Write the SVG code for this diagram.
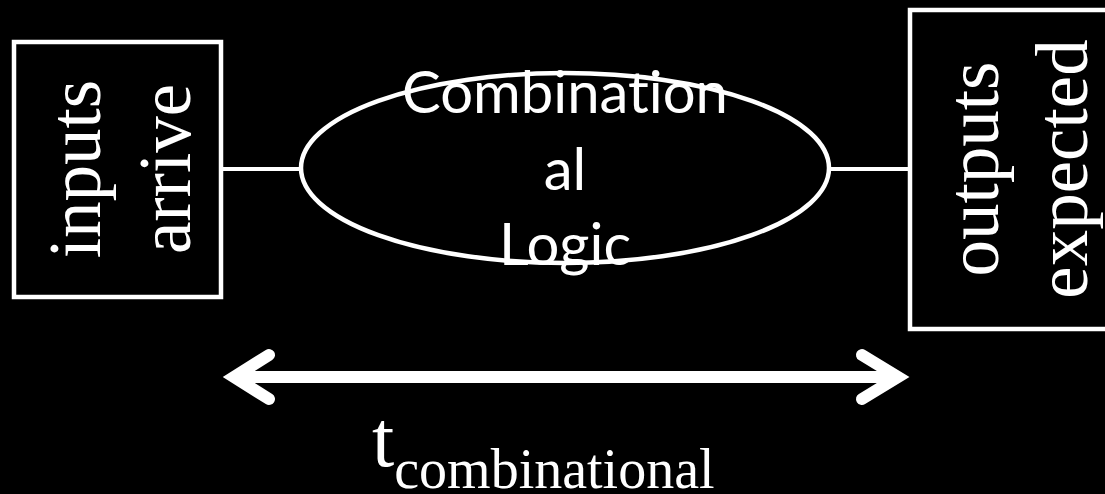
<svg xmlns="http://www.w3.org/2000/svg" width="1105" height="494" viewBox="0 0 1105 494">
<style>
.box{fill:#000;stroke:#fff;stroke-width:4.5}
.serif{font-family:"Liberation Serif","Times New Roman",serif;fill:#fff}
.sans{font-family:Lato,"Liberation Sans",sans-serif;fill:#fff;font-size:58px;text-anchor:middle;font-variant-ligatures:none;font-feature-settings:"liga" 0}
.conn{stroke:#fff;stroke-width:4;fill:none}
.arrow{stroke:#fff;stroke-width:12;fill:none;stroke-linecap:round;stroke-linejoin:miter}
</style>
<rect width="1105" height="494" fill="#000"/>
<g id="connectors">
<line class="conn" x1="221" y1="169" x2="301" y2="169"/>
<line class="conn" x1="829" y1="169" x2="910" y2="169"/>
</g>
<g id="inputs">
<rect class="box" x="14" y="42" width="207" height="255"/>
<text class="serif" font-size="73" text-anchor="middle" transform="translate(100,169) rotate(-90)">inputs</text>
<text class="serif" font-size="73" text-anchor="middle" transform="translate(190,169) rotate(-90)">arrive</text>
</g>
<g id="logic">
<ellipse cx="565" cy="168" rx="264" ry="95" fill="none" stroke="#fff" stroke-width="4.5"/>
<text class="sans" x="565" y="113">Combination</text>
<text class="sans" x="565" y="190">al</text>
<text class="sans" x="565" y="265">Logic</text>
</g>
<g id="outputs">
<rect class="box" x="910" y="10" width="300" height="319"/>
<text class="serif" font-size="73" text-anchor="middle" transform="translate(998,169) rotate(-90)">outputs</text>
<text class="serif" font-size="73" text-anchor="middle" transform="translate(1087,169) rotate(-90)">expected</text>
</g>
<g id="timing">
<line class="arrow" x1="236" y1="377" x2="896" y2="377" stroke-linecap="butt"/>
<polyline class="arrow" points="269,355 234,377 269,399"/>
<polyline class="arrow" points="862,355 898,377 862,399"/>
<text class="serif" x="372" y="466" font-size="80">t<tspan font-size="56" y="488">combinational</tspan></text>
</g>
</svg>
